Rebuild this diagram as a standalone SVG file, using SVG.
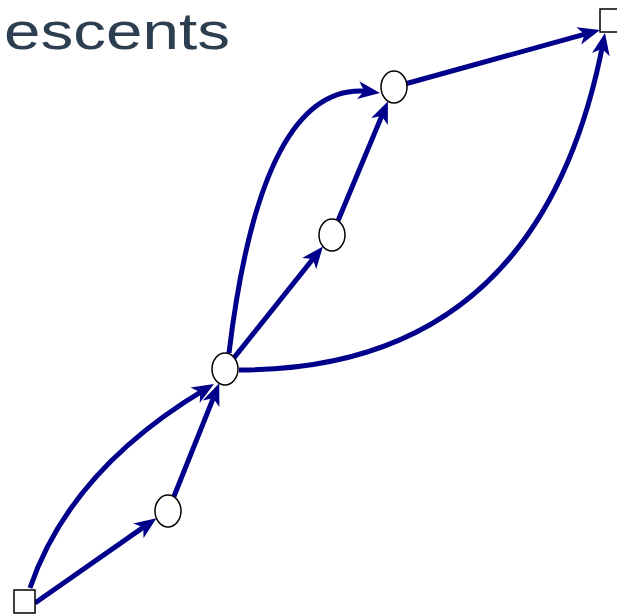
<svg xmlns="http://www.w3.org/2000/svg" width="617" height="616" viewBox="0 0 617 616">
<style>
.edge{fill:none;stroke:#00008b;stroke-width:5;marker-end:url(#arr)}
.node ellipse,.node rect{fill:#fff;stroke:#000;stroke-width:1.5}
.title{font-family:"Liberation Sans","DejaVu Sans",sans-serif;font-size:52px;fill:#2c3e50}
</style>
<defs>
<marker id="arr" markerUnits="userSpaceOnUse" markerWidth="24" markerHeight="20" refX="12" refY="10" orient="auto" overflow="visible">
<path d="M22,10 L0,1 L6,10 L0,19 Z" fill="#00008b"/>
</marker>
</defs>
<rect width="617" height="616" fill="#fff"/>
<text class="title" x="4" y="49" textLength="226" lengthAdjust="spacingAndGlyphs">escents</text>
<g id="edges">
<path class="edge" d="M35,603 L148.2,523.9"/>
<path class="edge" d="M30,588 Q70,470 205.4,389.1"/>
<path class="edge" d="M173.8,496.7 L215.5,392.6"/>
<path class="edge" d="M234.1,357.6 L316.7,254.2"/>
<path class="edge" d="M229,353 Q262,78 370.1,91.7"/>
<path class="edge" d="M338,220.8 L384.1,110.4"/>
<path class="edge" d="M406.7,83.5 L590.4,32.7"/>
<path class="edge" d="M239,370 Q540,370 603.1,42.8"/>
</g>
<g id="n_src" class="node"><rect x="14" y="590" width="21" height="23"/></g>
<g id="n_a" class="node"><ellipse cx="168" cy="511" rx="13" ry="16"/></g>
<g id="n_b" class="node"><ellipse cx="225" cy="369" rx="13" ry="16"/></g>
<g id="n_c" class="node"><ellipse cx="332" cy="235" rx="13" ry="16"/></g>
<g id="n_d" class="node"><ellipse cx="394" cy="87" rx="13" ry="16"/></g>
<g id="n_sink" class="node"><rect x="600" y="9" width="22" height="23"/></g>
</svg>
